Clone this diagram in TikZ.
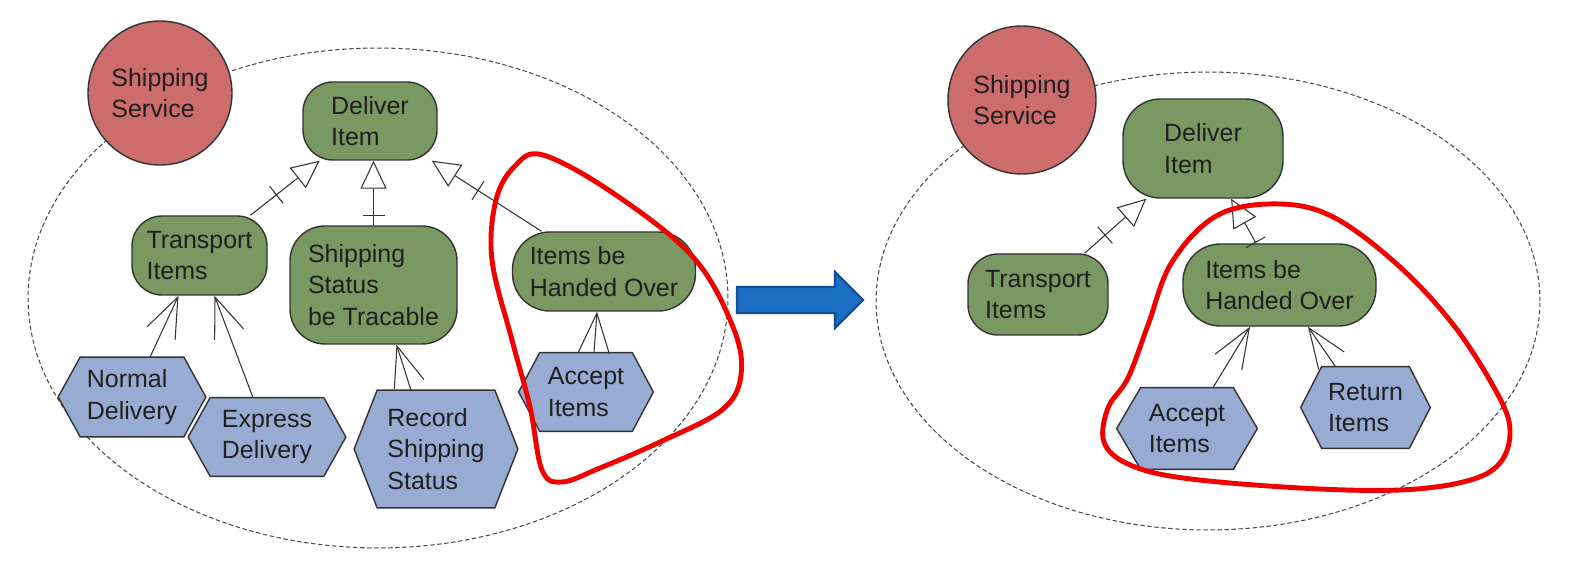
\documentclass[tikz,border=0pt]{standalone}
\usepackage{fontspec}
\setmainfont{Liberation Sans}
\usetikzlibrary{arrows.meta,decorations.markings,backgrounds}
\definecolor{goalgreen}{HTML}{7A9862}
\definecolor{actred}{HTML}{CD6C6C}
\definecolor{taskblue}{HTML}{98ABD2}
\definecolor{arrowblue}{HTML}{1C6DC4}
\definecolor{arrowedge}{HTML}{0E4F98}
\definecolor{loopred}{HTML}{F20000}
\newcommand\pxu{0.02cm}
\newcommand\hexa[2]{\path[hexshape] (#1.west) -- ([xshift=#2*\pxu]#1.north west) -- ([xshift=-#2*\pxu]#1.north east) -- (#1.east) -- ([xshift=-#2*\pxu]#1.south east) -- ([xshift=#2*\pxu]#1.south west) -- cycle;}
\begin{document}
\begin{tikzpicture}[x=0.02cm,y=-0.02cm,
  lbl/.style={font=\fontsize{14.2pt}{18pt}\selectfont, text=black!88, align=left, inner sep=0pt},
  sz/.style 2 args={minimum width=#1*\pxu, minimum height=#2*\pxu},
  actor/.style={lbl, circle, draw=black!80, line width=0.8pt, fill=actred, minimum size=#1*\pxu},
  goal/.style={lbl, rectangle, rounded corners=0.6cm, draw=black!80, line width=0.8pt, fill=goalgreen},
  task/.style={lbl},
  hexshape/.style={draw=black!80, line width=0.8pt, fill=taskblue},
  boundary/.style={draw=black!70, dash pattern=on 2.5pt off 1.5pt, line width=0.6pt},
  gen/.style={draw=black!80, line width=0.6pt, -{Triangle[open,fill=white,length=0.56cm,width=0.52cm]},
    decoration={markings, mark=at position -#1 with {\draw[arrows=-,black!80,line width=0.6pt] (0,-0.22cm) -- (0,0.22cm);}},
    postaction={decorate}},
  gen/.default=1.1cm,
  means/.style={draw=black!80, line width=0.6pt, -{Straight Barb[length=0.8cm,width=0.62cm]}},
  lasso/.style={draw=loopred, line width=2.8pt},
  bigarrow/.style={fill=arrowblue, draw=arrowedge, line width=1.3pt, line join=miter},
]
\useasboundingbox (0,0) rectangle (1569,563);

% ---------- left panel ----------
\node[actor=144] (ssL) at (160,93) {Shipping\\Service};
\node[goal, sz={134}{78}] (diL) at (370,121) {Deliver\\Item};
\node[goal, sz={135}{79}] (tiL) at (199.5,255.5) {Transport\\Items};
\node[goal, sz={167}{118}, rounded corners=0.7cm] (ssbtL) at (373.5,285) {Shipping\\Status\\be Tracable};
\node[goal, sz={183}{79}, rounded corners=0.75cm] (ihoL) at (604,271.5) {Items be\\Handed Over};
\node[task, sz={147}{79}] (ndL) at (132,397) {Normal\\Delivery};
\node[task, sz={157}{78}] (edL) at (267,437) {Express\\Delivery};
\node[task, sz={163}{117}] (rssL) at (436,449) {Record\\Shipping\\Status};
\node[task, sz={134}{78}] (aiL) at (586,392) {Accept\\Items};

% ---------- right panel ----------
\node[actor=148] (ssR) at (1022,100) {Shipping\\Service};
\node[goal, sz={160}{99}, rounded corners=0.75cm] (diR) at (1203,148.5) {Deliver\\Item};
\node[goal, sz={140}{81}] (tiR) at (1038,294.5) {Transport\\Items};
\node[goal, sz={193}{82}, rounded corners=0.75cm] (ihoR) at (1279.5,285) {Items be\\Handed Over};
\node[task, sz={140}{81}] (aiR) at (1187,428.5) {Accept\\Items};
\node[task, sz={129}{81}] (riR) at (1365.5,407.5) {Return\\Items};

\begin{scope}[on background layer]
  \fill[white] (0,0) rectangle (1569,563);
  \draw[boundary] (378,298) ellipse [x radius=7cm, y radius=5cm];
  \draw[boundary] (1208,301) ellipse [x radius=6.64cm, y radius=4.58cm];
  \hexa{ndL}{22}
  \hexa{edL}{22}
  \hexa{rssL}{23}
  \hexa{aiL}{21}
  \hexa{aiR}{24}
  \hexa{riR}{21}
\end{scope}

% ---------- connectors ----------
\draw[gen] (tiL) -- (diL);
\draw[gen] (ssbtL.north) -- (ssbtL.north |- diL.south);
\draw[gen] (ihoL) -- (diL);
\draw[gen] (tiR) -- (diR);
\draw[gen=1.0cm] (ihoR) -- (diR);

\draw[means] ([xshift=18*\pxu]ndL.north) -- ([xshift=-21*\pxu]tiL.south);
\draw[means] ([xshift=-14*\pxu]edL.north) -- ([xshift=15*\pxu]tiL.south);
\draw[means] ([xshift=-25*\pxu]rssL.north) -- ([xshift=23*\pxu]ssbtL.south);
\draw[means] ([xshift=8*\pxu]aiL.north) -- ([xshift=-7*\pxu]ihoL.south);
\draw[means] ([xshift=26*\pxu]aiR.north) -- ([xshift=-29.5*\pxu]ihoR.south);
\draw[means] ([xshift=-30*\pxu]riR.north) -- ([xshift=28.5*\pxu]ihoR.south);

% ---------- highlight loops ----------
\draw[lasso] plot[smooth cycle, tension=0.6] coordinates {(543,155) (613,193) (693,257) (733,327) (741,375) (722,410) (660,442) (600,468) (562,482) (542,470) (530,407) (512,340) (492,260) (496,200) (515,166)};
\draw[lasso] plot[smooth cycle, tension=0.6] coordinates {(1280,204) (1335,218) (1400,267) (1455,327) (1497,393) (1510,430) (1500,463) (1467,481) (1400,490) (1300,488) (1183,478) (1128,464) (1104,442) (1108,408) (1128,378) (1148,325) (1172,262) (1218,215)};

% ---------- transition arrow ----------
\draw[bigarrow] (737,287) -- (835,287) -- (835,272) -- (863,300) -- (835,328) -- (835,313) -- (737,313) -- cycle;
\end{tikzpicture}
\end{document}
